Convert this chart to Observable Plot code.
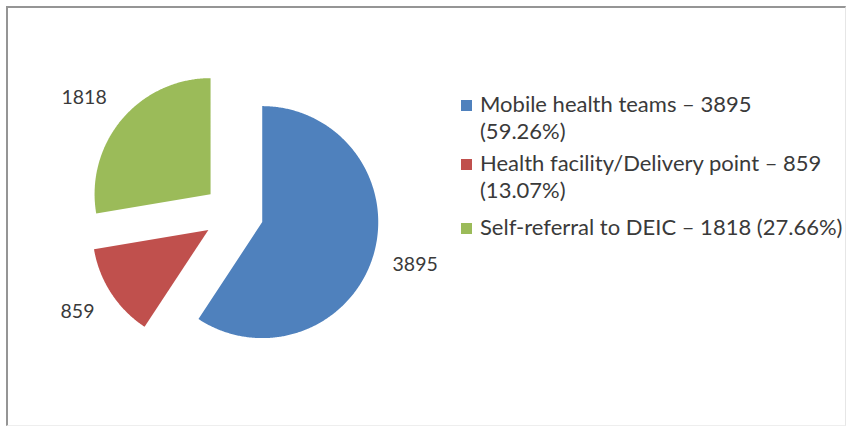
<!DOCTYPE html>
<html><head><meta charset="utf-8">
<script src="https://cdn.jsdelivr.net/npm/d3@7"></script>
<script src="https://cdn.jsdelivr.net/npm/@observablehq/plot@0.6"></script>
<style>
body{margin:0;background:#fff;}
#wrap{position:relative;width:848px;height:427px;overflow:hidden;font-family:Lato, sans-serif;color:#3a3a3a;background:#fff;}
#wrap svg{position:absolute;left:0;top:0;}
#border{position:absolute;left:6px;top:6px;width:840px;height:420px;border-top:2px solid #959595;border-left:2px solid #959595;border-right:1px solid #e6e6e6;border-bottom:1px solid #eeeeee;box-sizing:border-box;}
#legend{position:absolute;left:461px;top:91px;}
.item{display:flex;align-items:flex-start;}
.sw{width:11px;height:11px;margin-top:9px;margin-right:8px;flex:none;}
.txt{font-size:22px;line-height:26.5px;white-space:nowrap;}
</style></head>
<body><div id="wrap"><div id="border"></div><div id="legend"></div></div>
<script>
const categories = ["Mobile health teams", "Health facility/Delivery point", "Self-referral to DEIC"];
const values = [3895, 859, 1818];
const percents = ["59.26%", "13.07%", "27.66%"];
const colors = ["#4F81BD", "#C0504D", "#9BBB59"];
const legendWrap = [true, true, false];

const cx = 233, cy = 213, Rpx = 116;
const explode = 30 / Rpx;
const arcs = d3.pie().sort(null).value(d => d)(values);
const slices = arcs.map((a, i) => {
  const mid = (a.startAngle + a.endAngle) / 2;
  const ox = explode * Math.sin(mid), oy = explode * Math.cos(mid);
  const pts = [{x: ox, y: oy}];
  const n = Math.max(2, Math.ceil((a.endAngle - a.startAngle) / (Math.PI / 360)));
  for (let k = 0; k <= n; k++) {
    const t = a.startAngle + (a.endAngle - a.startAngle) * k / n;
    pts.push({x: ox + Math.sin(t), y: oy + Math.cos(t)});
  }
  const tx = 1 + 20 / Rpx, ty = 1 + 33 / Rpx;
  return {i, mid, pts, label: String(values[i]),
    lx: ox + tx * Math.sin(mid), ly: oy + ty * Math.cos(mid), right: Math.sin(mid) >= 0};
});

const chart = Plot.plot({
  width: 848, height: 427,
  x: {domain: [-1, 1], range: [cx - Rpx, cx + Rpx], axis: null},
  y: {domain: [-1, 1], range: [cy + Rpx, cy - Rpx], axis: null},
  style: {background: "transparent", fontFamily: "Lato, sans-serif"},
  marks: [
    ...slices.map(s => Plot.line(s.pts, {x: "x", y: "y", fill: colors[s.i], stroke: "none"})),
    Plot.text(slices.filter(s => s.right), {x: "lx", y: "ly", text: "label", textAnchor: "start", fontSize: 19.5, fill: "#3a3a3a"}),
    Plot.text(slices.filter(s => !s.right), {x: "lx", y: "ly", text: "label", textAnchor: "end", fontSize: 19.5, fill: "#3a3a3a"})
  ]
});
document.getElementById("wrap").insertBefore(chart, document.getElementById("border"));

const legend = document.getElementById("legend");
categories.forEach((c, i) => {
  const item = document.createElement("div");
  item.className = "item";
  item.style.marginBottom = i === 0 ? "6px" : "11px";
  const sw = document.createElement("div");
  sw.className = "sw"; sw.style.background = colors[i];
  const txt = document.createElement("div");
  txt.className = "txt";
  const first = `${c} – ${values[i]}`;
  if (legendWrap[i]) {
    txt.appendChild(document.createTextNode(first));
    txt.appendChild(document.createElement("br"));
    txt.appendChild(document.createTextNode(`(${percents[i]})`));
  } else {
    txt.textContent = `${first} (${percents[i]})`;
  }
  item.appendChild(sw); item.appendChild(txt);
  legend.appendChild(item);
});
</script>
</body></html>
